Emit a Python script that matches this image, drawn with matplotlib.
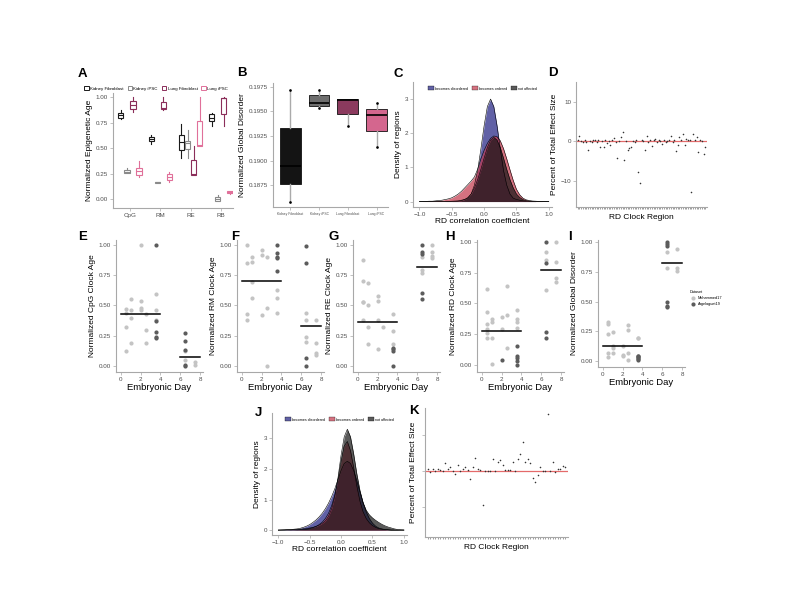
import matplotlib
matplotlib.use("Agg")
import matplotlib.pyplot as plt
from matplotlib.patches import Patch
from matplotlib.lines import Line2D
import numpy as np

plt.rcParams['font.family'] = ['Liberation Sans', 'DejaVu Sans']

# ---------------- data ----------------
# Panel A: box stats (q1, med, q3, whislo, whishi)
a_categories = ["CpG", "RM", "RE", "RB"]
a_groups = ["Kidney Fibroblast", "Kidney iPSC", "Lung Fibroblast", "Lung iPSC"]
a_colors = ["#1a1a1a", "#8a8a8a", "#8b2e5a", "#e0709a"]
a_kidney_fib = [(0.80, 0.82, 0.84, 0.79, 0.87), (0.57, 0.59, 0.61, 0.54, 0.63),
                (0.48, 0.56, 0.63, 0.40, 0.74), (0.77, 0.80, 0.83, 0.72, 0.84)]
a_kidney_ipsc = [(0.26, 0.27, 0.29, 0.26, 0.31), (0.16, 0.165, 0.17, 0.16, 0.17),
                 (0.49, 0.55, 0.57, 0.40, 0.68), (-0.02, 0.00, 0.02, -0.02, 0.04)]
a_lung_fib = [(0.88, 0.92, 0.96, 0.85, 1.00), (0.88, 0.89, 0.95, 0.87, 1.00),
              (0.24, 0.25, 0.38, 0.24, 0.52), (0.83, 0.99, 0.99, 0.72, 1.00)]
a_lung_ipsc = [(0.24, 0.28, 0.31, 0.22, 0.37), (0.19, 0.22, 0.25, 0.17, 0.27),
               (0.52, 0.53, 0.77, 0.52, 1.00), (0.06, 0.07, 0.08, 0.05, 0.08)]

# Panel B
b_labels = ["Kidney Fibroblast", "Kidney iPSC", "Lung Fibroblast", "Lung iPSC"]
b_colors = ["#141414", "#6e6e6e", "#8b3a5e", "#d4668e"]
b_q1 = [0.18760, 0.19556, 0.19479, 0.19302]
b_med = [0.18946, 0.19586, 0.19614, 0.19461]
b_q3 = [0.19336, 0.19665, 0.19624, 0.19520]
b_lo = [0.18580, 0.19540, 0.19353, 0.19133]
b_hi = [0.19723, 0.19720, 0.19624, 0.19586]
b_fliers = [[0.18580, 0.19723], [0.19540, 0.19720], [0.19353], [0.19133, 0.19586]]

# Density panels: grid of correlation coefficient
dens_x = [-1.0, -0.95, -0.9, -0.85, -0.8, -0.75, -0.7, -0.65, -0.6, -0.55, -0.5,
          -0.45, -0.4, -0.35, -0.3, -0.25, -0.2, -0.15, -0.1, -0.05, 0.0,
          0.05, 0.1, 0.15, 0.2, 0.25, 0.3, 0.35, 0.4, 0.45, 0.5,
          0.55, 0.6, 0.65, 0.7, 0.75, 0.8, 0.85, 0.9, 0.95, 1.0]
c_disordered = [0, 0, 0, 0, 0, 0, 0, 0, 0, 0.005, 0.01,
                0.015, 0.02, 0.04, 0.06, 0.10, 0.22, 0.48, 0.91, 1.54, 2.22,
                2.78, 3.0, 2.78, 2.22, 1.54, 0.91, 0.48, 0.22, 0.10, 0.06,
                0.04, 0.02, 0.015, 0.01, 0.005, 0, 0, 0, 0, 0]
c_ordered = [0, 0, 0.005, 0.01, 0.01, 0.02, 0.03, 0.04, 0.06, 0.08, 0.11,
             0.16, 0.22, 0.30, 0.40, 0.50, 0.60, 0.72, 0.95, 1.25, 1.50,
             1.70, 1.85, 1.92, 1.90, 1.78, 1.55, 1.25, 0.93, 0.62, 0.36,
             0.20, 0.10, 0.05, 0.03, 0.015, 0.01, 0.005, 0, 0, 0]
c_notaff = [0, 0, 0, 0, 0, 0, 0, 0, 0, 0, 0,
            0.005, 0.01, 0.025, 0.06, 0.12, 0.22, 0.40, 0.64, 0.94, 1.27,
            1.58, 1.80, 1.88, 1.80, 1.58, 1.27, 0.94, 0.64, 0.40, 0.22,
            0.12, 0.06, 0.025, 0.01, 0.005, 0, 0, 0, 0, 0]
j_disordered = [0, 0.005, 0.01, 0.015, 0.02, 0.03, 0.04, 0.06, 0.09, 0.13, 0.18,
                0.25, 0.33, 0.43, 0.55, 0.70, 0.88, 1.10, 1.35, 1.65, 1.95,
                2.18, 2.25, 2.18, 1.95, 1.62, 1.25, 0.90, 0.60, 0.38, 0.23,
                0.13, 0.07, 0.04, 0.02, 0.01, 0, 0, 0, 0, 0]
j_ordered = [0, 0, 0, 0.005, 0.005, 0.01, 0.01, 0.015, 0.02, 0.03, 0.05,
             0.08, 0.12, 0.18, 0.26, 0.38, 0.55, 0.80, 1.15, 1.65, 2.25,
             2.75, 2.90, 2.60, 2.05, 1.45, 0.95, 0.60, 0.38, 0.24, 0.15,
             0.09, 0.05, 0.03, 0.02, 0.01, 0, 0, 0, 0, 0]
j_notaff = [0, 0.003, 0.005, 0.008, 0.01, 0.015, 0.02, 0.03, 0.04, 0.05, 0.07,
            0.09, 0.12, 0.16, 0.22, 0.30, 0.45, 0.70, 1.10, 1.70, 2.45,
            3.05, 3.30, 3.05, 2.50, 1.85, 1.30, 0.90, 0.65, 0.50, 0.40,
            0.32, 0.25, 0.19, 0.14, 0.10, 0.07, 0.04, 0.02, 0.01, 0.005]
dens_labels = ["becomes disordered", "becomes ordered", "not affected"]
dens_colors = ["#3a3a90", "#c3374b", "#141414"]
dens_alphas = [0.8, 0.7, 0.7]

# Panel D and K: percent of total effect size per RD clock region
d_values = [0.3, 1.2, 0.1, -0.2, 0.2, -0.1, -2.3, 0.0, -0.3, 0.2, 0.3, -0.2, 0.4,
            -1.5, 0.0, -1.5, 0.2, -0.4, 0.1, -1.0, 0.3, 0.8, -0.2, -4.4, 0.1, 1.0,
            2.3, -4.8, 0.0, -2.3, -1.8, -1.5, 0.1, -0.1, 0.2, -7.8, -10.5, 0.3,
            0.0, -2.2, 1.4, -0.3, 0.4, -1.2, 0.2, 0.5, -0.2, 0.3, 0.1, -0.8, 0.2,
            -0.3, 0.0, 0.4, 1.3, -0.1, 0.2, -2.4, -1.0, 1.1, 0.3, 1.8, -1.0, 0.5,
            0.2, 0.3, -12.8, 1.7, 0.2, 1.0, -2.8, 0.4, 0.0, -3.2, -1.4]
k_values = [0.7, -0.2, 0.5, 0.0, 0.7, 0.3, 0.0, 2.1, 0.7, 1.2, 0.1, -0.9, 1.7,
            0.1, 0.5, 1.2, 0.3, -2.2, 1.2, 3.5, 0.7, 0.3, -9.3, 0.1, 0.1, 0.1,
            3.4, 0.1, 2.4, 3.1, 1.6, 0.3, 0.3, 0.3, 2.6, 0.1, 3.3, 4.7, 8.0, 2.6,
            3.3, 2.3, -1.8, -3.0, -1.1, 1.2, 0.1, 0.0, 15.8, -0.1, 2.6, -0.2,
            0.5, 0.7, 1.4, 1.2]

# Panels E-I: embryonic day scatter (light = dataset 1, dark = dataset 2)
e_light_x = [0.5, 0.5, 0.5, 0.5, 1, 1, 1, 1, 2, 2, 2, 2, 2.5, 2.5, 2.5, 3.5, 3.5, 3.5, 6.5, 6.5, 7.5, 7.5]
e_light_y = [0.47, 0.44, 0.32, 0.12, 0.55, 0.46, 0.40, 0.19, 1.00, 0.54, 0.48, 0.46, 0.43, 0.30, 0.19, 0.59, 0.46, 0.38, 0.12, 0.05, 0.03, 0.01]
e_dark_x = [3.5, 3.5, 3.5, 3.5, 3.5, 6.5, 6.5, 6.5, 6.5, 6.5]
e_dark_y = [1.00, 0.37, 0.28, 0.24, 0.23, 0.27, 0.21, 0.13, 0.01, 0.00]
e_means = [0.43, 0.075]

f_light_x = [0.5, 0.5, 0.5, 0.5, 1, 1, 1, 1, 2, 2, 2, 2.5, 2.5, 2.5, 3.5, 3.5, 3.5, 6.5, 6.5, 6.5, 6.5, 7.5, 7.5, 7.5, 7.5]
f_light_y = [1.00, 0.85, 0.43, 0.38, 0.90, 0.86, 0.69, 0.56, 0.96, 0.92, 0.42, 0.90, 0.475, 0.00, 0.625, 0.56, 0.44, 0.44, 0.38, 0.24, 0.20, 0.38, 0.19, 0.11, 0.09]
f_dark_x = [3.5, 3.5, 3.5, 3.5, 3.5, 6.5, 6.5, 6.5, 6.5]
f_dark_y = [1.00, 0.93, 0.90, 0.89, 0.78, 0.99, 0.85, 0.065, 0.00]
f_means = [0.70, 0.33]

g_light_x = [0.5, 0.5, 0.5, 0.5, 0.5, 1, 1, 1, 1, 2, 2, 2, 2, 2.5, 3.5, 3.5, 3.5, 6.5, 6.5, 6.5, 7.5, 7.5, 7.5, 7.5]
g_light_y = [0.875, 0.70, 0.53, 0.525, 0.38, 0.685, 0.50, 0.325, 0.18, 0.575, 0.535, 0.38, 0.14, 0.32, 0.425, 0.29, 0.185, 0.90, 0.79, 0.765, 1.00, 0.94, 0.91, 0.89]
g_dark_x = [3.5, 3.5, 3.5, 3.5, 6.5, 6.5, 6.5, 6.5, 6.5]
g_dark_y = [0.15, 0.14, 0.125, 0.00, 1.00, 0.94, 0.925, 0.60, 0.55]
g_means = [0.365, 0.82]

h_light_x = [0.5, 0.5, 0.5, 0.5, 0.5, 0.5, 1, 1, 1, 1, 2, 2, 2.5, 2.5, 2.5, 3.5, 3.5, 3.5, 3.5, 6.5, 6.5, 6.5, 7.5, 7.5, 7.5, 7.5]
h_light_y = [0.62, 0.43, 0.33, 0.29, 0.26, 0.22, 0.37, 0.35, 0.22, 0.01, 0.39, 0.29, 0.64, 0.405, 0.14, 0.45, 0.37, 0.35, 0.30, 0.92, 0.85, 0.61, 1.00, 0.84, 0.71, 0.675]
h_dark_x = [2, 3.5, 3.5, 3.5, 3.5, 3.5, 6.5, 6.5, 6.5, 6.5]
h_dark_y = [0.04, 0.155, 0.075, 0.055, 0.03, 0.00, 1.00, 0.83, 0.27, 0.22]
h_means = [0.275, 0.77]

i_light_x = [0.5, 0.5, 0.5, 0.5, 0.5, 1, 1, 1, 1, 2, 2, 2, 2.5, 2.5, 2.5, 2.5, 3.5, 3.5, 6.5, 6.5, 7.5, 7.5, 7.5]
i_light_y = [0.33, 0.31, 0.225, 0.07, 0.035, 0.245, 0.125, 0.11, 0.07, 0.125, 0.055, 0.04, 0.30, 0.265, 0.07, 0.005, 0.195, 0.19, 0.915, 0.785, 0.94, 0.785, 0.755]
i_dark_x = [3.5, 3.5, 3.5, 3.5, 3.5, 3.5, 6.5, 6.5, 6.5, 6.5, 6.5, 6.5]
i_dark_y = [0.045, 0.04, 0.035, 0.025, 0.015, 0.005, 1.00, 0.98, 0.965, 0.495, 0.465, 0.455]
i_means = [0.125, 0.82]

stage_ranges = [(0, 4), (6, 8)]
dataset_labels = ["Mohammed17", "Argelaguet19"]
light_col = "#c4c4c4"
dark_col = "#5c5c5c"

# ---------------- figure ----------------
fig = plt.figure(figsize=(8, 6), dpi=100)
W, H = 800.0, 600.0


def add_ax(x0, y0, x1, y1):
    return fig.add_axes([x0 / W, 1 - y1 / H, (x1 - x0) / W, (y1 - y0) / H])


SP = "#a8a8a8"
TK = "#4d4d4d"


def style(ax, tsize=4.5):
    for s in ["top", "right"]:
        ax.spines[s].set_visible(False)
    for s in ["left", "bottom"]:
        ax.spines[s].set_color(SP)
        ax.spines[s].set_linewidth(0.8)
    ax.tick_params(length=2, width=0.5, color=SP, labelsize=tsize, labelcolor=TK, pad=1.5)


def letter(x, y, s):
    fig.text(x / W, 1 - y / H, s, fontsize=9.5, fontweight="bold", ha="center", va="center")


# Panel A
axA = add_ax(113, 93, 233, 208)
style(axA)
offs = [-0.3, -0.1, 0.1, 0.3]
for gi, (gdata, col) in enumerate(zip([a_kidney_fib, a_kidney_ipsc, a_lung_fib, a_lung_ipsc], a_colors)):
    stats = []
    for q1, med, q3, lo, hi in gdata:
        stats.append(dict(q1=q1, med=med, q3=q3, whislo=lo, whishi=hi, fliers=[]))
    pos = [ci + 1 + offs[gi] for ci in range(len(a_categories))]
    axA.bxp(stats, positions=pos, widths=0.17, showfliers=False, patch_artist=True,
            boxprops=dict(facecolor="white", edgecolor=col, linewidth=0.8),
            medianprops=dict(color=col, linewidth=0.8),
            whiskerprops=dict(color=col, linewidth=0.8),
            capprops=dict(linewidth=0), manage_ticks=False)
axA.set_xlim(0.44, 4.4)
axA.set_ylim(-0.085, 1.04)
axA.set_xticks(range(1, 5))
axA.set_xticklabels(a_categories)
axA.set_yticks([0, 0.25, 0.5, 0.75, 1.0])
axA.set_yticklabels(["0.00", "0.25", "0.50", "0.75", "1.00"])
axA.set_ylabel("Normalized Epigenetic Age", fontsize=6, labelpad=2)
hA = [Patch(facecolor="white", edgecolor=c, linewidth=0.7) for c in a_colors]
axA.legend(hA, a_groups, ncol=4, loc="lower center", bbox_to_anchor=(0.36, 1.0), fontsize=3.2,
           frameon=False, handlelength=1.0, handleheight=0.9, columnspacing=0.9, handletextpad=0.3,
           borderaxespad=0.1)
letter(82, 74, "A")

# Panel B
axB = add_ax(273, 83, 388, 207)
style(axB)
statsB = [dict(q1=b_q1[i], med=b_med[i], q3=b_q3[i], whislo=b_lo[i], whishi=b_hi[i], fliers=b_fliers[i])
          for i in range(4)]
bp = axB.bxp(statsB, positions=[1, 2, 3, 4], widths=0.72, patch_artist=True, showfliers=True,
             boxprops=dict(edgecolor="#111111", linewidth=0.6),
             medianprops=dict(color="black", linewidth=1.2),
             whiskerprops=dict(color="#aaaaaa", linewidth=1.0),
             capprops=dict(linewidth=0),
             flierprops=dict(marker="o", markersize=0.9, markerfacecolor="black", markeredgecolor="black"),
             manage_ticks=False)
for patch, c in zip(bp["boxes"], b_colors):
    patch.set_facecolor(c)
axB.set_xlim(0.4, 4.4)
axB.set_ylim(0.18526, 0.1979)
axB.set_xticks([1, 2, 3, 4])
axB.set_xticklabels(b_labels, fontsize=2.4)
axB.set_yticks([0.1875, 0.19, 0.1925, 0.195, 0.1975])
axB.set_yticklabels(["0.1875", "0.1900", "0.1925", "0.1950", "0.1975"])
axB.set_ylabel("Normalized Global Disorder", fontsize=6, labelpad=2)
letter(242, 73, "B")


def density(ax, curves, ylim_top):
    style(ax)
    for ys, col, a in zip(curves, dens_colors, dens_alphas):
        ax.fill_between(dens_x, ys, 0, color=col, alpha=a, linewidth=0)
        ax.plot(dens_x, ys, color="black", linewidth=0.4)
    ax.set_xlim(-1.1, 1.05)
    ax.set_ylim(-0.16, ylim_top)
    ax.set_xticks([-1.0, -0.5, 0.0, 0.5, 1.0])
    ax.set_xticklabels(["\u22121.0", "\u22120.5", "0.0", "0.5", "1.0"])
    ax.set_yticks([0, 1, 2, 3])
    ax.set_ylabel("Density of regions", fontsize=6, labelpad=2)
    ax.set_xlabel("RD correlation coefficient", fontsize=6, labelpad=1)
    h = [Patch(facecolor=c, edgecolor="black", linewidth=0.3, alpha=a) for c, a in zip(dens_colors, dens_alphas)]
    ax.legend(h, dens_labels, ncol=3, loc="upper center", bbox_to_anchor=(0.5, 0.99), fontsize=2.6,
              frameon=False, handlelength=1.6, handleheight=1.3, columnspacing=1.0, handletextpad=0.4)


axC = add_ax(413, 82, 552, 207)
density(axC, [c_disordered, c_ordered, c_notaff], 3.5)
letter(398, 74, "C")

axJ = add_ax(272, 413, 407, 535)
density(axJ, [j_disordered, j_ordered, j_notaff], 3.83)
letter(258, 413, "J")


def effect(ax, vals, ylim, yticks, show_labels):
    style(ax)
    xs = np.arange(len(vals))
    ax.axhline(0, color="#e46a6a", linewidth=0.9, zorder=1)
    ax.scatter(xs, vals, s=1.3, color="#333333", zorder=2, linewidths=0)
    ax.set_xlim(-1, len(vals))
    ax.set_ylim(*ylim)
    ax.set_xticks(xs)
    ax.set_xticklabels([])
    ax.tick_params(axis="x", length=1.5, width=0.5, color="#777777")
    ax.set_yticks(yticks)
    if not show_labels:
        ax.set_yticklabels([])
    ax.set_ylabel("Percent of Total Effect Size", fontsize=6, labelpad=2)
    ax.set_xlabel("RD Clock Region", fontsize=6, labelpad=2)


axD = add_ax(576, 82, 707, 207)
effect(axD, d_values, (-16.7, 15), [-10, 0, 10], True)
letter(553, 73, "D")

axK = add_ax(425, 408, 568, 537)
effect(axK, k_values, (-18.3, 17.5), [-10, 0, 10], False)
letter(414, 411, "K")


def embryo(ax, lx, ly, dx, dy, means, ylabel, ylim=(-0.05, 1.04)):
    style(ax)
    ax.scatter(lx, ly, s=9, color=light_col, linewidths=0, zorder=2)
    ax.scatter(dx, dy, s=9, color=dark_col, linewidths=0, zorder=2)
    for (a, b), m in zip(stage_ranges, means):
        ax.plot([a, b], [m, m], color="black", linewidth=1.1, zorder=3)
    ax.set_xlim(-0.5, 8.3)
    ax.set_ylim(*ylim)
    ax.set_xticks([0, 2, 4, 6, 8])
    ax.set_yticks([0, 0.25, 0.5, 0.75, 1.0])
    ax.set_yticklabels(["0.00", "0.25", "0.50", "0.75", "1.00"])
    ax.set_xlabel("Embryonic Day", fontsize=6.8, labelpad=1)
    ax.set_ylabel(ylabel, fontsize=6, labelpad=2)


axE = add_ax(116, 240, 203, 372)
embryo(axE, e_light_x, e_light_y, e_dark_x, e_dark_y, e_means, "Normalized CpG Clock Age")
letter(83, 237, "E")
axF = add_ax(237, 240, 324, 372)
embryo(axF, f_light_x, f_light_y, f_dark_x, f_dark_y, f_means, "Normalized RM Clock Age")
letter(235, 237, "F")
axG = add_ax(353, 240, 440, 372)
embryo(axG, g_light_x, g_light_y, g_dark_x, g_dark_y, g_means, "Normalized RE Clock Age")
letter(334, 237, "G")
axH = add_ax(477, 240, 564, 372)
embryo(axH, h_light_x, h_light_y, h_dark_x, h_dark_y, h_means, "Normalized RD Clock Age", ylim=(-0.057, 1.016))
letter(450, 237, "H")
axI = add_ax(598, 240, 685, 367)
embryo(axI, i_light_x, i_light_y, i_dark_x, i_dark_y, i_means, "Normalized Global Disorder", ylim=(-0.05, 1.017))
letter(570, 237, "I")

hI = [Line2D([], [], marker="o", linestyle="", markersize=3, markerfacecolor=c, markeredgewidth=0)
      for c in [light_col, dark_col]]
fig.legend(hI, dataset_labels, title="Dataset", loc="upper left", bbox_to_anchor=(686 / W, 1 - 287 / H),
           fontsize=2.8, title_fontsize=2.8, frameon=False, handletextpad=0.2, labelspacing=0.5,
           alignment="left")

fig.savefig("out.png", dpi=100)
